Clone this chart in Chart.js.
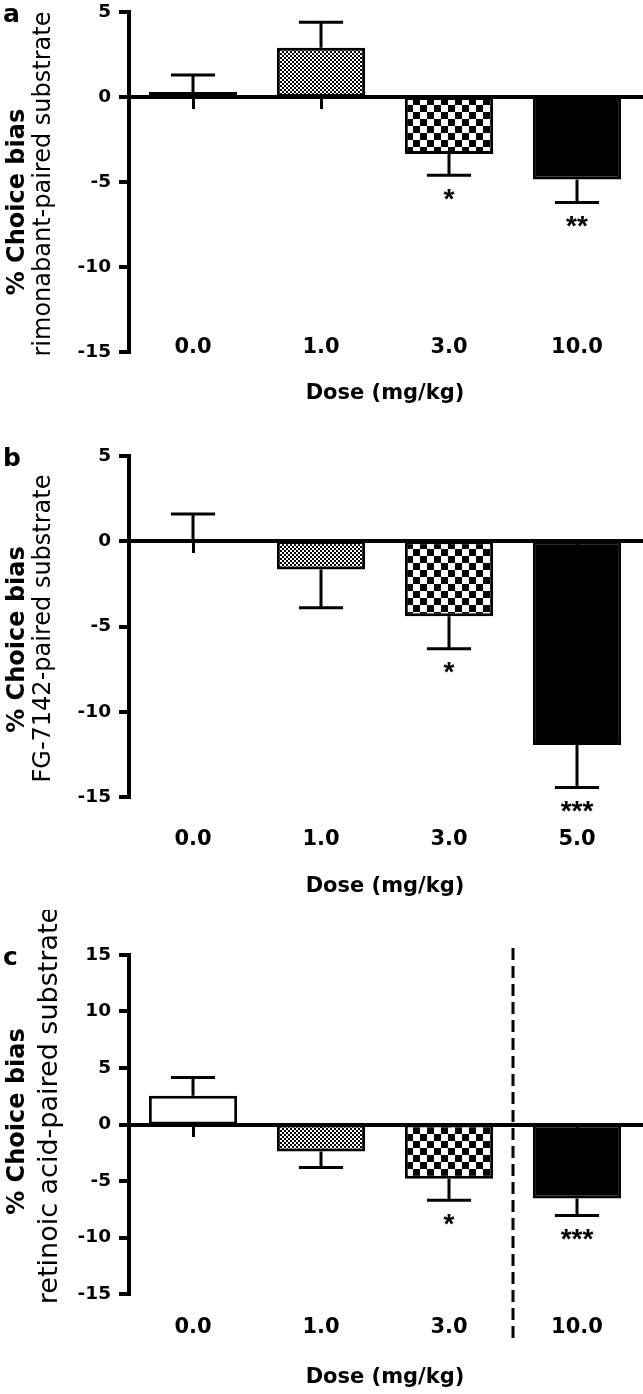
<!DOCTYPE html>
<html>
<head>
<meta charset="utf-8">
<script src="https://cdn.jsdelivr.net/npm/chart.js@4"></script>
<style>
  body { margin: 0; background: #fff; }
  #wrap { position: relative; width: 643px; height: 1394px; overflow: hidden; }
  canvas { position: absolute; left: 0; }
</style>
</head>
<body>
<div id="wrap">
  <canvas id="chartA" width="643" height="427" style="top:-7px"></canvas>
  <canvas id="chartB" width="643" height="480" style="top:430px"></canvas>
  <canvas id="chartC" width="643" height="484" style="top:910px"></canvas>
</div>
<script>
// doses (mg/kg) for each panel
const dosesA = ['0.0', '1.0', '3.0', '10.0'];
const dosesB = ['0.0', '1.0', '3.0', '5.0'];
const dosesC = ['0.0', '1.0', '3.0', '10.0'];

// mean % choice bias
const biasA = [0.3, 2.9, -3.35, -4.85];
const biasB = [0, -1.65, -4.4, -11.95];
const biasC = [2.55, -2.4, -4.8, -6.55];

// end of the error bar (mean +/- SEM, away from zero)
const errTipA = [1.3, 4.4, -4.6, -6.2];
const errTipB = [1.6, -3.9, -6.3, -14.45];
const errTipC = [4.15, -3.8, -6.7, -8.05];

// significance marks
const starsA = ['', '', '*', '**'];
const starsB = ['', '', '*', '***'];
const starsC = ['', '', '*', '***'];

// y axis ticks
const yTicksAB = [-15, -10, -5, 0, 5];
const yTicksC = [-15, -10, -5, 0, 5, 10, 15];

Chart.defaults.font.family = '"DejaVu Sans", sans-serif';
Chart.defaults.color = '#000';

function tile(ctx, size, cell) {
  const c = document.createElement('canvas');
  c.width = size;
  c.height = size;
  const g = c.getContext('2d');
  g.fillStyle = '#fff';
  g.fillRect(0, 0, size, size);
  g.fillStyle = '#000';
  g.fillRect(0, 0, cell, cell);
  g.fillRect(cell, cell, cell, cell);
  return ctx.createPattern(c, 'repeat');
}

// error bars, stars, rotated y titles, panel letters, divider
const extras = {
  id: 'extras',
  afterDatasetsDraw(chart, args, opts) {
    const ctx = chart.ctx;
    const y = chart.scales.y;
    ctx.save();
    ctx.strokeStyle = '#000';
    ctx.lineWidth = 3;
    chart.getDatasetMeta(0).data.forEach((bar, i) => {
      const tip = y.getPixelForValue(opts.errTip[i]);
      const half = bar.width / 4;
      ctx.beginPath();
      ctx.moveTo(bar.x, bar.y);
      ctx.lineTo(bar.x, tip);
      ctx.moveTo(bar.x - half, tip);
      ctx.lineTo(bar.x + half, tip);
      ctx.stroke();
    });
    ctx.restore();
  },
  afterDraw(chart, args, opts) {
    const ctx = chart.ctx;
    const area = chart.chartArea;
    const x = chart.scales.x;
    const y = chart.scales.y;
    const midY = (area.top + area.bottom) / 2;
    ctx.save();
    ctx.fillStyle = '#000';

    // stars under the error bars
    ctx.font = 'bold 28px "Liberation Sans"';
    ctx.textAlign = 'center';
    ctx.textBaseline = 'middle';
    chart.getDatasetMeta(0).data.forEach((bar, i) => {
      if (!opts.stars[i]) return;
      ctx.fillText(opts.stars[i], bar.x, y.getPixelForValue(opts.errTip[i]) + 25);
    });

    // panel letter
    ctx.font = 'bold 25px "DejaVu Sans"';
    ctx.textAlign = 'left';
    ctx.textBaseline = 'alphabetic';
    ctx.fillText(opts.letter, 3, area.top + 10);

    // two line y title
    ctx.textAlign = 'center';
    ctx.save();
    ctx.translate(24, midY + opts.boldShift);
    ctx.rotate(-Math.PI / 2);
    ctx.font = 'bold 24px "DejaVu Sans"';
    ctx.fillText('% Choice bias', 0, 0);
    ctx.restore();
    ctx.save();
    ctx.translate(opts.subX, midY + opts.subShift);
    ctx.rotate(-Math.PI / 2);
    ctx.font = opts.subSize + 'px "DejaVu Sans"';
    ctx.fillText(opts.subtitle, 0, 0);
    ctx.restore();

    // dashed divider between dose groups
    if (opts.divider != null) {
      const dx = (x.getPixelForValue(opts.divider) + x.getPixelForValue(opts.divider + 1)) / 2;
      ctx.strokeStyle = '#000';
      ctx.lineWidth = 3;
      ctx.setLineDash([12, 6]);
      ctx.beginPath();
      ctx.moveTo(dx, area.top - 7);
      ctx.lineTo(dx, area.bottom + 46);
      ctx.stroke();
    }
    ctx.restore();
  }
};

function panel(id, cfg) {
  const canvas = document.getElementById(id);
  const ctx = canvas.getContext('2d');
  const fills = ['#fff', tile(ctx, 4, 2), tile(ctx, 14, 7), '#000'];
  const yMin = cfg.yTicks[0];
  return new Chart(canvas, {
    type: 'bar',
    data: {
      labels: cfg.doses,
      datasets: [{
        data: cfg.bias,
        base: 1e-6, // keeps the bars flush with the zero line
        backgroundColor: fills,
        borderColor: '#000',
        borderWidth: 3,
        borderSkipped: false,
        barPercentage: 0.69,
        categoryPercentage: 1
      }]
    },
    options: {
      responsive: false,
      animation: false,
      devicePixelRatio: 1,
      layout: { padding: { top: cfg.padTop, right: 2, left: 0, bottom: cfg.padBottom } },
      plugins: {
        legend: { display: false },
        tooltip: { enabled: false },
        extras: {
          errTip: cfg.errTip,
          stars: cfg.stars,
          letter: cfg.letter,
          subtitle: cfg.subtitle,
          subSize: cfg.subSize,
          subX: cfg.subX,
          boldShift: cfg.boldShift,
          subShift: cfg.subShift,
          divider: cfg.divider
        }
      },
      scales: {
        x: {
          type: 'category',
          position: { y: 0 },
          offset: true,
          grid: { display: true, drawOnChartArea: false, drawTicks: true, tickLength: 10, lineWidth: 3, color: '#000', offset: false },
          border: { display: true, width: 4, color: '#000' },
          ticks: { display: false }
        },
        x2: {
          type: 'category',
          labels: cfg.doses,
          position: { y: yMin },
          offset: true,
          grid: { display: false, drawTicks: false },
          border: { display: false },
          ticks: { color: '#000', font: { size: 21, weight: 'bold' }, padding: cfg.labelPad, maxRotation: 0, autoSkip: false },
          title: {
            display: true,
            text: 'Dose (mg/kg)',
            color: '#000',
            font: { size: 21, weight: 'bold' },
            padding: 0
          },
          afterFit: s => { s.height = cfg.titleDrop; }
        },
        y: {
          min: yMin,
          max: cfg.yTicks[cfg.yTicks.length - 1],
          afterFit: s => { s.width = 129; },
          afterBuildTicks: s => { s.ticks = cfg.yTicks.map(v => ({ value: v })); },
          grid: { display: true, drawOnChartArea: false, drawTicks: true, tickLength: 10, lineWidth: 4, color: '#000' },
          border: { display: true, width: 4, color: '#000' },
          ticks: { color: '#000', font: { size: 18.5, weight: 'bold' }, padding: 8 }
        }
      }
    },
    plugins: [extras]
  });
}

panel('chartA', {
  doses: dosesA, bias: biasA, errTip: errTipA, stars: starsA, yTicks: yTicksAB,
  letter: 'a', subtitle: 'rimonabant-paired substrate', subSize: 24, subX: 50,
  boldShift: 20, subShift: 2,
  padTop: 11, padBottom: 68, labelPad: -17, titleDrop: 54
});

panel('chartB', {
  doses: dosesB, bias: biasB, errTip: errTipB, stars: starsB, yTicks: yTicksAB,
  letter: 'b', subtitle: 'FG-7142-paired substrate', subSize: 24, subX: 50,
  boldShift: 13, subShift: 2,
  padTop: 26, padBottom: 113, labelPad: 30, titleDrop: 102
});

panel('chartC', {
  doses: dosesC, bias: biasC, errTip: errTipC, stars: starsC, yTicks: yTicksC,
  letter: 'c', subtitle: 'retinoic acid-paired substrate', subSize: 27, subX: 57,
  boldShift: -3, subShift: -19,
  padTop: 45, padBottom: 100, labelPad: 21, titleDrop: 96,
  divider: 2
});
</script>
</body>
</html>
